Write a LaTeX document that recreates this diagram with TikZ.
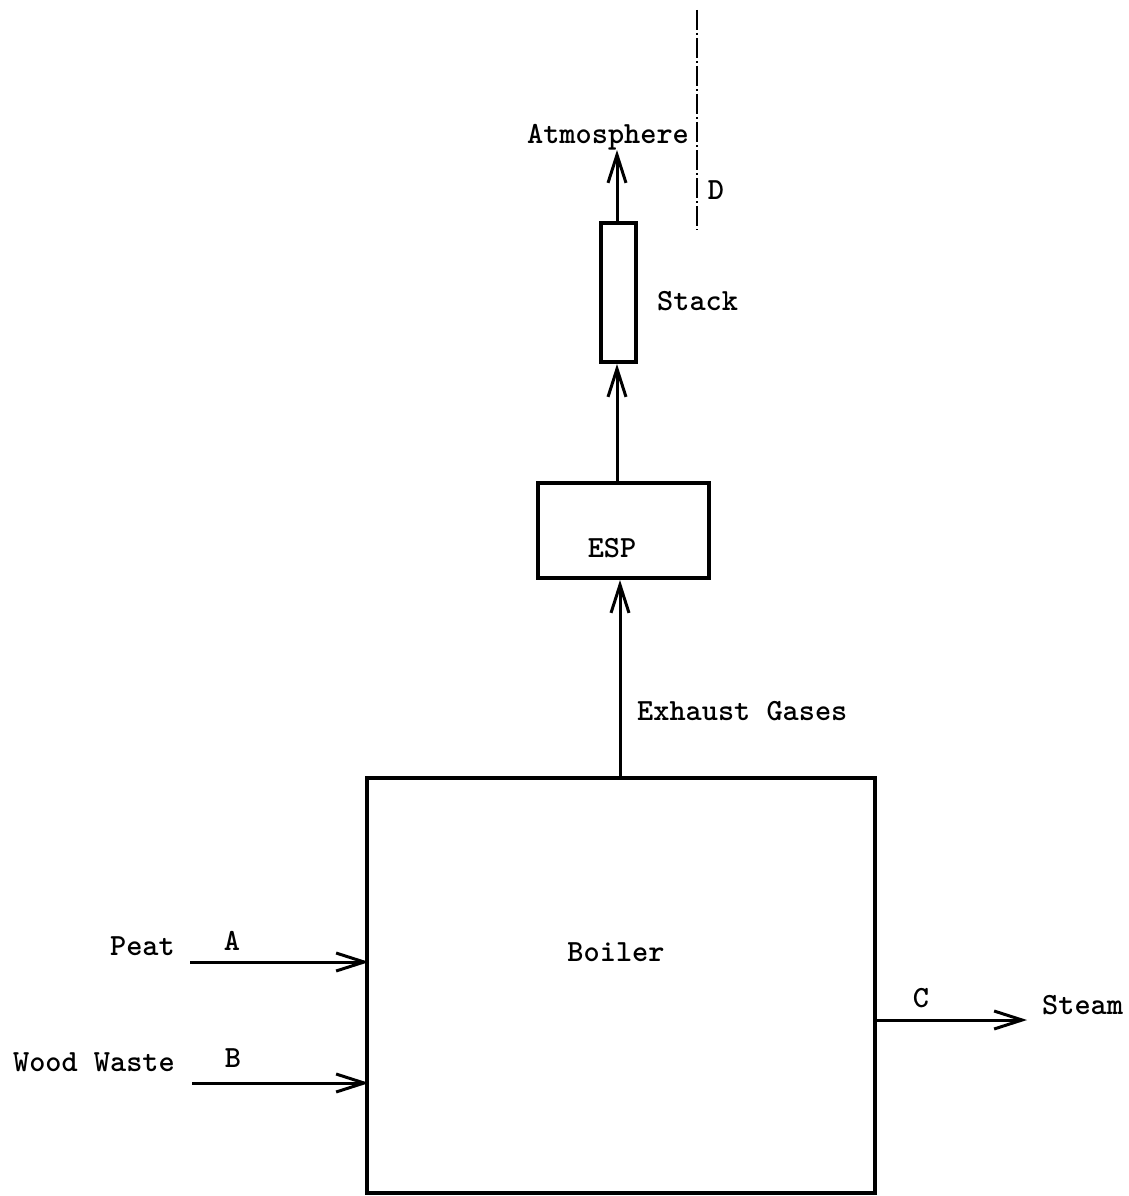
\documentclass[tikz,border=0pt]{standalone}
\usetikzlibrary{arrows.meta}
\begin{document}
\begin{tikzpicture}[x=1pt,y=-1pt,
  box/.style={draw,line width=3.6pt},
  flow/.style={line width=3pt,-{Straight Barb[length=28pt,width=18pt,line width=3pt]}},
  lbl/.style={inner sep=0pt,font=\fontsize{30.8}{36}\selectfont\ttfamily\bfseries},
  border/.style={line width=1.5pt,dash pattern=on 20pt off 3pt on 2pt off 3pt}]
\useasboundingbox (0,0) rectangle (1129,1196);
% boxes
\draw[box] (367,778) rectangle (875,1193);
\node[lbl] (boiler) at (616,952) {Boiler};
\draw[box] (538,483) rectangle (709,578);
\node[lbl] (esp) at (612,548) {ESP};
\draw[box] (601,223) rectangle (636,362);
\node[lbl,anchor=west] (stack) at (657,301) {Stack};
% coordinates
\coordinate (boilerTop) at (620,778);
\coordinate (espBot) at (620,580);
\coordinate (espTop) at (617,483);
\coordinate (stackBot) at (617,364);
\coordinate (stackTop) at (617,223);
\coordinate (atmo) at (617,150);
\coordinate (peatS) at (190,962);
\coordinate (peatE) at (369,962);
\coordinate (woodS) at (192,1083);
\coordinate (woodE) at (369,1083);
\coordinate (steamS) at (875,1020);
\coordinate (steamE) at (1027,1020);
\coordinate (dTop) at (697,10);
\coordinate (dBot) at (697,230);
% flows
\draw[flow] (boilerTop) -- (espBot);
\draw[flow] (espTop) -- (stackBot);
\draw[flow] (stackTop) -- (atmo);
\draw[flow] (peatS) -- (peatE);
\draw[flow] (woodS) -- (woodE);
\draw[flow] (steamS) -- (steamE);
\draw[border] (dTop) -- (dBot);
% labels
\node[lbl] (atm) at (608,137) {Atmosphere};
\node[lbl] (d) at (716,190) {D};
\node[lbl,anchor=west] (exh) at (637,711) {Exhaust Gases};
\node[lbl,anchor=east] (peat) at (175,946) {Peat};
\node[lbl] (a) at (232,941) {A};
\node[lbl,anchor=east] (wood) at (175,1062) {Wood Waste};
\node[lbl] (b) at (233,1058) {B};
\node[lbl] (c) at (921,998) {C};
\node[lbl,anchor=west] (steam) at (1042,1005) {Steam};
\end{tikzpicture}
\end{document}
